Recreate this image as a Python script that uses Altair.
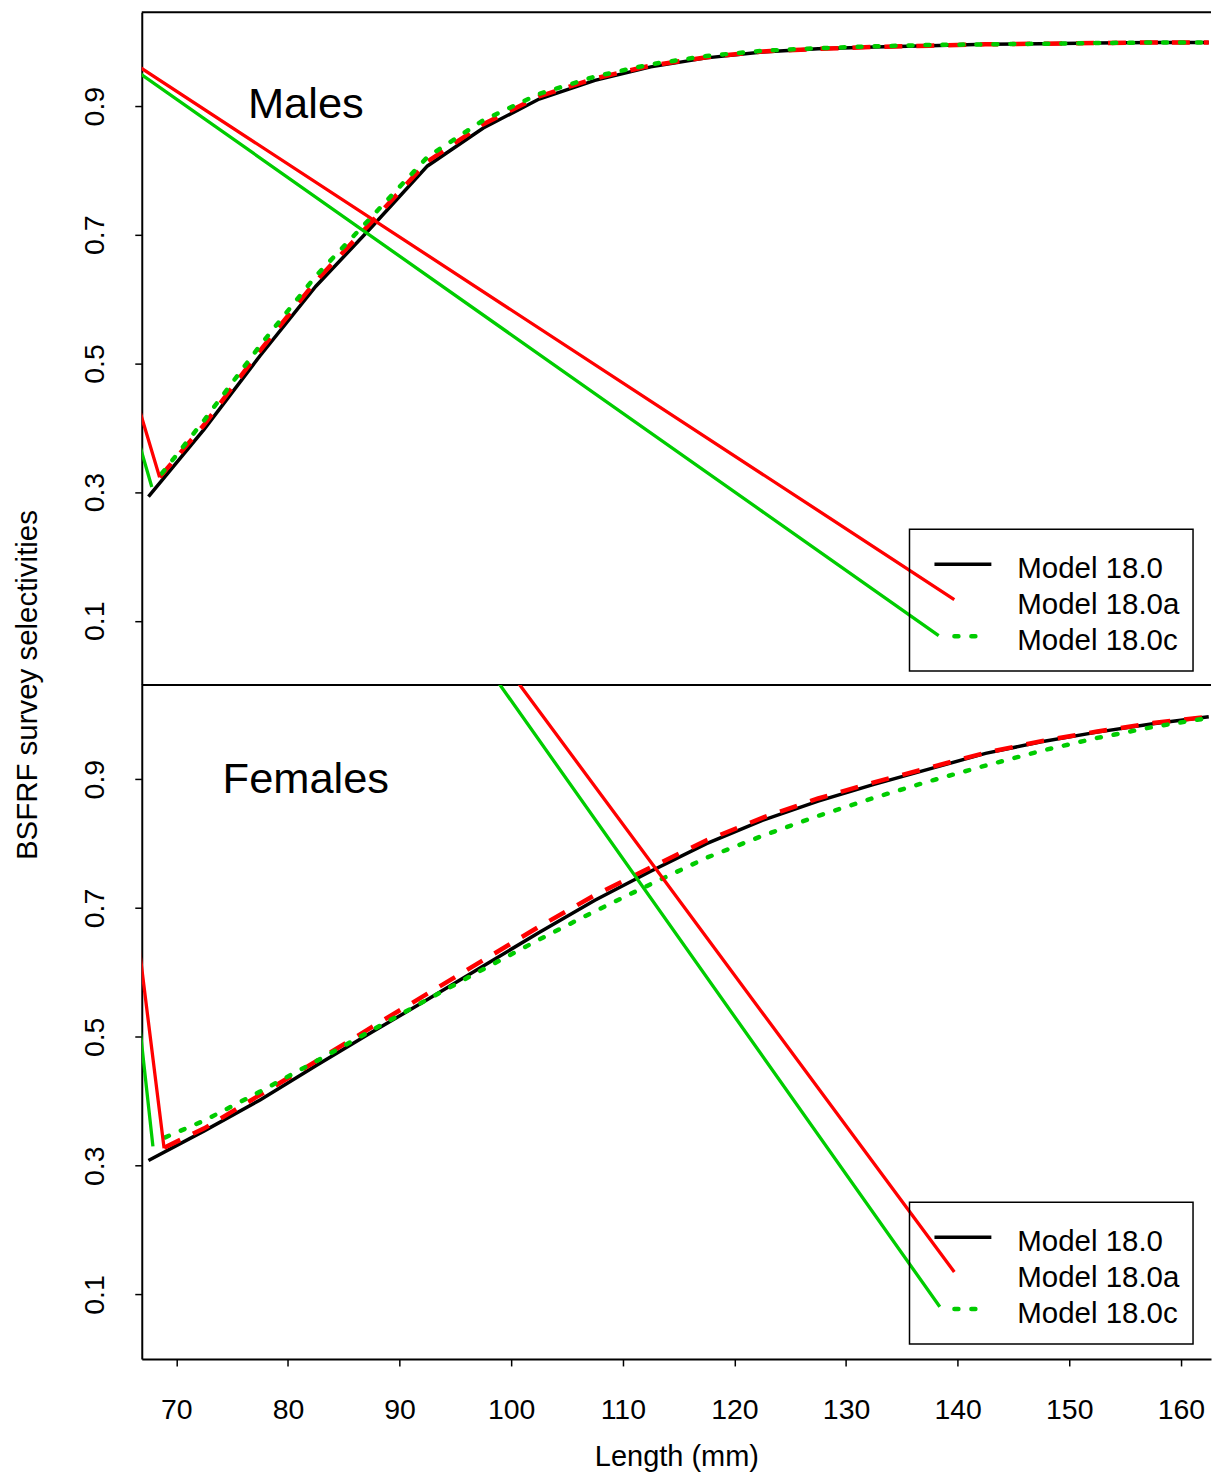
import altair as alt
import pandas as pd

# ---------------- data ----------------
LENGTHS = [67.5, 72.5, 77.5, 82.5, 87.5, 92.5, 97.5, 102.5, 107.5, 112.5,
           117.5, 122.5, 127.5, 132.5, 137.5, 142.5, 147.5, 152.5, 157.5, 162.5]

# Males
male_180 = [0.293, 0.398, 0.512, 0.620, 0.712, 0.807, 0.866, 0.911, 0.940, 0.961,
            0.975, 0.984, 0.989, 0.992, 0.994, 0.996, 0.997, 0.998, 0.999, 0.999]
male_180a_x = [68.5] + LENGTHS[1:]
male_180a = [0.323, 0.405, 0.520, 0.628, 0.720, 0.814, 0.872, 0.915, 0.943, 0.963,
             0.976, 0.985, 0.989, 0.992, 0.994, 0.996, 0.997, 0.998, 0.999, 0.999]
male_180c_x = [68.7] + LENGTHS[1:]
male_180c = [0.329, 0.412, 0.528, 0.636, 0.728, 0.821, 0.878, 0.919, 0.946, 0.965,
             0.978, 0.986, 0.990, 0.993, 0.995, 0.996, 0.997, 0.998, 0.999, 0.999]

# Females
fem_180 = [0.308, 0.354, 0.402, 0.455, 0.507, 0.558, 0.610, 0.662, 0.712, 0.757,
           0.800, 0.836, 0.866, 0.892, 0.916, 0.940, 0.958, 0.973, 0.986, 0.997]
fem_180a_x = [68.9] + LENGTHS[1:]
fem_180a = [0.328, 0.358, 0.410, 0.462, 0.515, 0.567, 0.619, 0.671, 0.720, 0.763,
            0.805, 0.840, 0.870, 0.895, 0.918, 0.941, 0.959, 0.974, 0.987, 0.997]
fem_180c_x = [69.0] + LENGTHS[1:]
fem_180c = [0.344, 0.370, 0.415, 0.462, 0.510, 0.558, 0.605, 0.651, 0.695, 0.737,
            0.778, 0.812, 0.843, 0.871, 0.897, 0.921, 0.944, 0.964, 0.981, 0.995]

# stray solid connector lines (legend sample end -> off-plot vertex -> curve start)
male_conn_a_x = [139.7, 55.3, 68.5]
male_conn_a_y = [0.133, 1.090, 0.323]
male_conn_c_x = [138.3, 54.6, 67.8]
male_conn_c_y = [0.077, 1.099, 0.308]
fem_conn_a_x = [139.7, 56.3, 68.9]
fem_conn_a_y = [0.135, 2.087, 0.327]
fem_conn_c_x = [138.4, 56.8, 67.9]
fem_conn_c_y = [0.081, 2.080, 0.330]

X_DOMAIN = [66.9, 162.7]
Y_DOMAIN = [0.0, 1.046]
X_TICKS = [70, 80, 90, 100, 110, 120, 130, 140, 150, 160]
Y_TICKS = [0.1, 0.3, 0.5, 0.7, 0.9]
LEGEND_LABELS = ["Model 18.0", "Model 18.0a", "Model 18.0c"]
PANEL_LABELS = ["Males", "Females"]
PANEL_LABEL_POS = [(81.6, 0.881), (81.6, 0.878)]

# ---------------- style ----------------
FONT = "Liberation Sans"
GREEN = "#00CC00"
RED = "#FF0000"
W = 1071
H_TOP = 674
H_BOT = 675


def df(xs, ys):
    return pd.DataFrame({"x": xs, "y": ys, "o": list(range(len(xs)))})


def enc(bottom):
    if bottom:
        xaxis = alt.Axis(values=X_TICKS, format="d", labelFlush=False,
                         labelPadding=30, titlePadding=18, tickSize=7)
        xtitle = "Length (mm)"
    else:
        xaxis = None
        xtitle = None
    yaxis = alt.Axis(values=Y_TICKS, format=".1f", labelAngle=270,
                     labelAlign="center", labelBaseline="bottom",
                     labelPadding=25, tickSize=7, title=None, labelFlush=False)
    x = alt.X("x:Q", scale=alt.Scale(domain=X_DOMAIN, nice=False, zero=False),
              axis=xaxis, title=xtitle)
    y = alt.Y("y:Q", scale=alt.Scale(domain=Y_DOMAIN, nice=False, zero=False),
              axis=yaxis)
    return x, y


def one():
    return pd.DataFrame({"k": [0]})


def panel(black, red, green, conn_red, conn_green, label, label_pos, height, bottom):
    x, y = enc(bottom)
    layers = []
    layers.append(alt.Chart(black).mark_line(color="black", strokeWidth=3.5, clip=True)
                  .encode(x=x, y=y, order="o:Q"))
    layers.append(alt.Chart(red).mark_line(color=RED, strokeWidth=4.5, strokeDash=[18, 14],
                                           clip=True)
                  .encode(x=x, y=y, order="o:Q"))
    layers.append(alt.Chart(green).mark_line(color=GREEN, strokeWidth=4.5, strokeDash=[4, 13],
                                             strokeCap="round", clip=True)
                  .encode(x=x, y=y, order="o:Q"))
    layers.append(alt.Chart(conn_red).mark_line(color=RED, strokeWidth=3.3, clip=True)
                  .encode(x=x, y=y, order="o:Q"))
    layers.append(alt.Chart(conn_green).mark_line(color=GREEN, strokeWidth=3.3, clip=True)
                  .encode(x=x, y=y, order="o:Q"))
    lab = pd.DataFrame({"x": [label_pos[0]], "y": [label_pos[1]], "t": [label]})
    layers.append(alt.Chart(lab).mark_text(font=FONT, fontSize=43.5, align="center",
                                           baseline="alphabetic", color="black")
                  .encode(x=x, y=y, text="t:N"))
    # legend box
    layers.append(alt.Chart(one()).mark_rect(filled=False, stroke="black", strokeWidth=1.5)
                  .encode(x=alt.value(769), x2=alt.value(1053),
                          y=alt.value(518), y2=alt.value(660)))
    for lbl, yy in zip(LEGEND_LABELS, [567, 603, 639]):
        layers.append(alt.Chart(one()).mark_text(font=FONT, fontSize=29.5, align="left",
                                                 baseline="alphabetic", color="black")
                      .encode(x=alt.value(877), y=alt.value(yy), text=alt.value(lbl)))
    layers.append(alt.Chart(one()).mark_rule(color="black", strokeWidth=3.5)
                  .encode(x=alt.value(794), x2=alt.value(851), y=alt.value(553)))
    layers.append(alt.Chart(one()).mark_rule(color=GREEN, strokeWidth=4.5, strokeDash=[4, 13],
                                             strokeCap="round")
                  .encode(x=alt.value(814), x2=alt.value(840), y=alt.value(625)))
    if not bottom:
        # frame lines (top border and panel divider)
        layers.append(alt.Chart(one()).mark_rule(color="black", strokeWidth=2)
                      .encode(x=alt.value(0), x2=alt.value(W), y=alt.value(0)))
        layers.append(alt.Chart(one()).mark_rule(color="black", strokeWidth=2)
                      .encode(x=alt.value(0), x2=alt.value(W), y=alt.value(height)))
        layers.append(alt.Chart(one()).mark_text(font=FONT, fontSize=29.5, angle=270,
                                                 align="center", baseline="middle",
                                                 color="black")
                      .encode(x=alt.value(-114), y=alt.value(height),
                              text=alt.value("BSFRF survey selectivities")))
    return alt.layer(*layers).properties(width=W, height=height)


top = panel(df(LENGTHS, male_180), df(male_180a_x, male_180a), df(male_180c_x, male_180c),
            df(male_conn_a_x, male_conn_a_y), df(male_conn_c_x, male_conn_c_y),
            PANEL_LABELS[0], PANEL_LABEL_POS[0], H_TOP, False)
bot = panel(df(LENGTHS, fem_180), df(fem_180a_x, fem_180a), df(fem_180c_x, fem_180c),
            df(fem_conn_a_x, fem_conn_a_y), df(fem_conn_c_x, fem_conn_c_y),
            PANEL_LABELS[1], PANEL_LABEL_POS[1], H_BOT, True)

chart = (
    alt.vconcat(top, bot, spacing=0, bounds="flush")
    .properties(padding={"left": 13, "top": 10, "right": 0, "bottom": 0},
                background="white")
    .configure_view(stroke=None)
    .configure_axis(grid=False, domainColor="black", domainWidth=2, tickColor="black",
                    tickWidth=1.5, labelColor="black", labelFont=FONT, labelFontSize=28.5,
                    titleFont=FONT, titleFontSize=29, titleFontWeight="normal",
                    titleColor="black")
)

chart.save("out.html", embed_options={"renderer": "svg", "actions": False})
